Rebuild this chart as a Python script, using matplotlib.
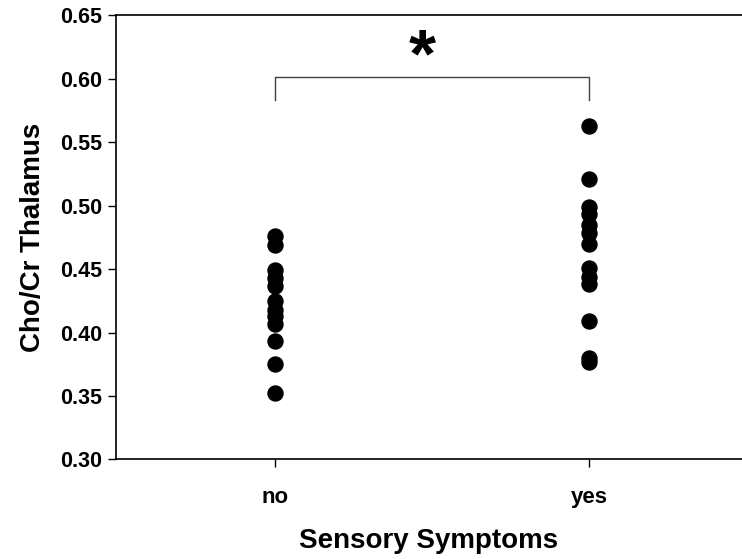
import matplotlib
matplotlib.use("Agg")
import matplotlib.pyplot as plt

plt.rcParams['font.family'] = ['Liberation Sans', 'DejaVu Sans']
plt.rcParams['font.weight'] = 'bold'

# groups and Cho/Cr values
groups = ['no', 'yes']
no_vals = [0.476, 0.469, 0.449, 0.443, 0.437, 0.425, 0.418, 0.413, 0.407,
           0.393, 0.375, 0.352]
yes_vals = [0.563, 0.521, 0.499, 0.493, 0.485, 0.478, 0.470, 0.451, 0.444,
            0.438, 0.409, 0.380, 0.377]
yticks = [0.30, 0.35, 0.40, 0.45, 0.50, 0.55, 0.60, 0.65]

fig = plt.figure(figsize=(7.42, 5.59), dpi=100)
ax = fig.add_axes([0.1563, 0.178, 0.8437, 0.795])

ax.plot([1] * len(no_vals), no_vals, 'o', color='black', markersize=10.8)
ax.plot([2] * len(yes_vals), yes_vals, 'o', color='black', markersize=10.8)

# significance bracket
ax.plot([1, 1, 2, 2], [0.583, 0.601, 0.601, 0.583], color='#404040', linewidth=1)
ax.text(1.47, 0.602, '*', ha='center', va='baseline', fontsize=50, fontweight='bold')

ax.set_xlim(0.494, 2.487)
ax.set_ylim(0.30, 0.65)
ax.set_xticks([1, 2])
ax.set_xticklabels(groups, fontsize=16)
ax.set_yticks(yticks)
ax.set_yticklabels(['%.2f' % v for v in yticks], fontsize=15.5)
ax.tick_params(direction='out', length=6, width=1, pad=4)
ax.tick_params(axis='x', pad=14)
ax.spines['right'].set_visible(False)
for s in ['left', 'bottom', 'top']:
    ax.spines[s].set_linewidth(1.2)

ax.set_xlabel('Sensory Symptoms', fontsize=20, fontweight='bold', labelpad=14)
ax.set_ylabel('Cho/Cr Thalamus', fontsize=20, fontweight='bold', labelpad=10)

fig.savefig('out.png', dpi=100)
